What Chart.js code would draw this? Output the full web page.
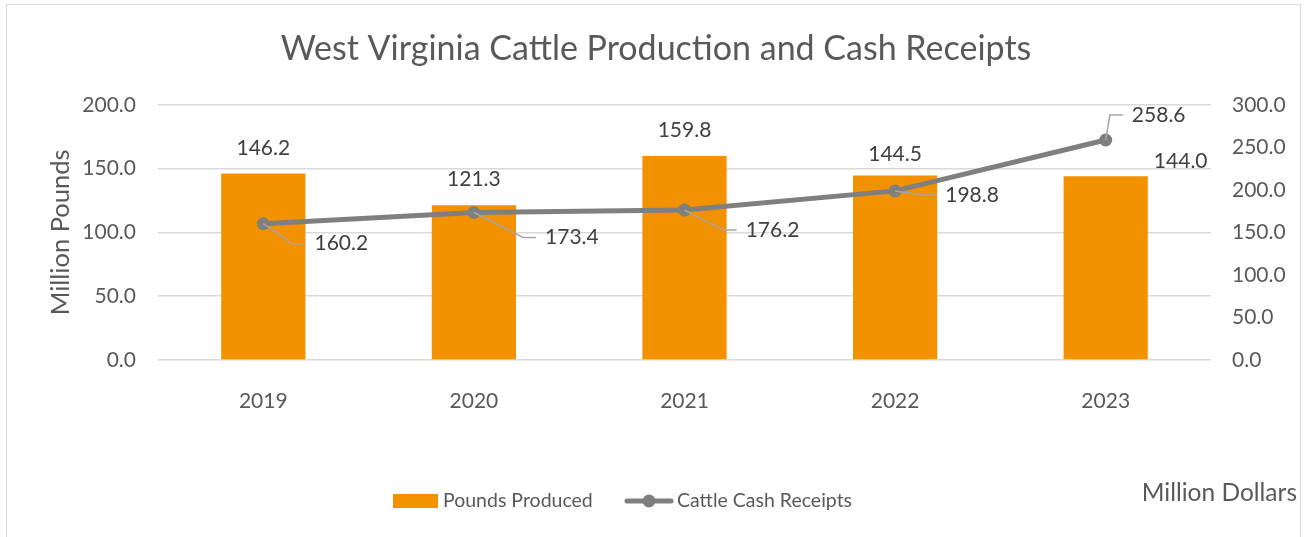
<!DOCTYPE html>
<html>
<head>
<meta charset="utf-8">
<title>West Virginia Cattle Production and Cash Receipts</title>
<script src="https://cdn.jsdelivr.net/npm/chart.js@4.4.1/dist/chart.umd.min.js"></script>
<style>
    html, body { margin: 0; padding: 0; background: #fff; }
    #wrap { position: relative; width: 1304px; height: 537px; }
    #frame { position: absolute; left: 6px; top: 4px; width: 1295px; height: 540px; border: 1.5px solid #D9D9D9; box-sizing: border-box; }
    canvas { position: absolute; left: 0; top: 0; }
</style>
</head>
<body>
<div id="wrap">
    <div id="frame"></div>
    <canvas id="cattleChart" width="1304" height="537"></canvas>
</div>
<script>
// Chart data
const years = ['2019', '2020', '2021', '2022', '2023'];
const poundsProduced = [146.2, 121.3, 159.8, 144.5, 144.0];   // million pounds
const cashReceipts = [160.2, 173.4, 176.2, 198.8, 258.6];     // million dollars
const leftTicks = [0, 50, 100, 150, 200];
const rightTicks = [0, 50, 100, 150, 200, 250, 300];

const TEXT = '#595959';
const LABEL = '#404040';
const GRID = '#D9D9D9';
const ORANGE = '#F39200';
const GREY = '#7F7F7F';
const FONT = 'Lato, "Open Sans", sans-serif';

// label offsets (px) - bars: from top of bar, line: from the point
const barLabelOffsets = [[0, -25], [0, -26], [0, -26], [0, -21], [75, -15]];
const lineLabelOffsets = [[78, 20], [98, 25], [88, 20], [77, 4], [53, -25]];

const dataLabels = {
    id: 'dataLabels',
    afterDatasetsDraw(chart) {
        const ctx = chart.ctx;
        ctx.save();
        ctx.font = '21px ' + FONT;
        ctx.fillStyle = LABEL;
        ctx.textAlign = 'center';
        ctx.textBaseline = 'middle';

        chart.getDatasetMeta(0).data.forEach((bar, i) => {
            const [dx, dy] = barLabelOffsets[i];
            ctx.fillText(poundsProduced[i].toFixed(1), bar.x + dx, bar.y + dy);
        });

        chart.getDatasetMeta(1).data.forEach((pt, i) => {
            const [dx, dy] = lineLabelOffsets[i];
            const txt = cashReceipts[i].toFixed(1);
            const tx = pt.x + dx, ty = pt.y + dy;
            const left = tx - ctx.measureText(txt).width / 2;
            ctx.strokeStyle = '#A6A6A6';
            ctx.lineWidth = 1.5;
            ctx.beginPath();
            ctx.moveTo(pt.x, pt.y);
            ctx.lineTo(left - 22, ty);
            ctx.lineTo(left - 9, ty);
            ctx.stroke();
            ctx.fillText(txt, tx, ty);
        });
        ctx.restore();
    },
    afterDraw(chart) {
        // legend + secondary axis caption, placed like the original
        const ctx = chart.ctx;
        const ds = chart.data.datasets;
        ctx.save();
        ctx.textBaseline = 'middle';
        ctx.textAlign = 'left';
        ctx.font = '19.5px ' + FONT;

        ctx.fillStyle = ds[0].backgroundColor;
        ctx.fillRect(393, 494, 45, 14);
        ctx.fillStyle = TEXT;
        ctx.fillText(ds[0].label, 443, 501);

        ctx.strokeStyle = ds[1].borderColor;
        ctx.lineWidth = 5;
        ctx.lineCap = 'round';
        ctx.beginPath(); ctx.moveTo(627, 501); ctx.lineTo(671, 501); ctx.stroke();
        ctx.fillStyle = ds[1].borderColor;
        ctx.beginPath(); ctx.arc(649, 501, 6.5, 0, Math.PI * 2); ctx.fill();
        ctx.fillStyle = TEXT;
        ctx.fillText(ds[1].label, 677, 501);

        ctx.font = '24.5px ' + FONT;
        ctx.textAlign = 'right';
        ctx.fillText('Million Dollars', 1297, 493);
        ctx.restore();
    }
};

const ctx = document.getElementById('cattleChart').getContext('2d');
const chart = new Chart(ctx, {
    type: 'bar',
    data: {
        labels: years,
        datasets: [{
            type: 'bar',
            label: 'Pounds Produced',
            data: poundsProduced,
            backgroundColor: ORANGE,
            barPercentage: 0.4,
            categoryPercentage: 1,
            yAxisID: 'y',
            order: 1
        }, {
            type: 'line',
            label: 'Cattle Cash Receipts',
            data: cashReceipts,
            borderColor: GREY,
            backgroundColor: GREY,
            borderWidth: 5,
            pointRadius: 6.5,
            pointBorderWidth: 0,
            pointBackgroundColor: GREY,
            tension: 0,
            yAxisID: 'y1',
            order: 0
        }]
    },
    options: {
        responsive: false,
        animation: false,
        devicePixelRatio: 1,
        layout: { padding: { left: 27, right: 19, top: 0, bottom: 58 } },
        plugins: {
            tooltip: { enabled: false },
            legend: { display: false },
            title: {
                display: true,
                text: 'West Virginia Cattle Production and Cash Receipts',
                color: TEXT,
                font: { family: FONT, size: 34, weight: 'normal' },
                padding: { top: 29, bottom: 35 }
            }
        },
        scales: {
            x: {
                grid: { display: false },
                border: { display: false },
                ticks: { color: TEXT, font: { family: FONT, size: 21 }, padding: 21 },
                afterFit: (s) => { s.height = 119; }
            },
            y: {
                position: 'left',
                min: 0, max: 200,
                afterBuildTicks: (s) => { s.ticks = leftTicks.map(v => ({ value: v })); },
                afterFit: (s) => { s.width = 131; },
                grid: { color: GRID, lineWidth: 1.5, drawTicks: false },
                border: { display: false },
                ticks: { color: TEXT, font: { family: FONT, size: 21 }, padding: 22, callback: v => v.toFixed(1) },
                title: {
                    display: true,
                    text: 'Million Pounds',
                    color: TEXT,
                    font: { family: FONT, size: 25.5 },
                    padding: { top: 18, bottom: 0 }
                }
            },
            y1: {
                position: 'right',
                min: 0, max: 300,
                afterBuildTicks: (s) => { s.ticks = rightTicks.map(v => ({ value: v })); },
                afterFit: (s) => { s.width = 74; },
                grid: { drawOnChartArea: false, drawTicks: false },
                border: { display: false },
                ticks: { color: TEXT, font: { family: FONT, size: 21 }, padding: 21, callback: v => v.toFixed(1) }
            }
        }
    },
    plugins: [dataLabels]
});
</script>
</body>
</html>
